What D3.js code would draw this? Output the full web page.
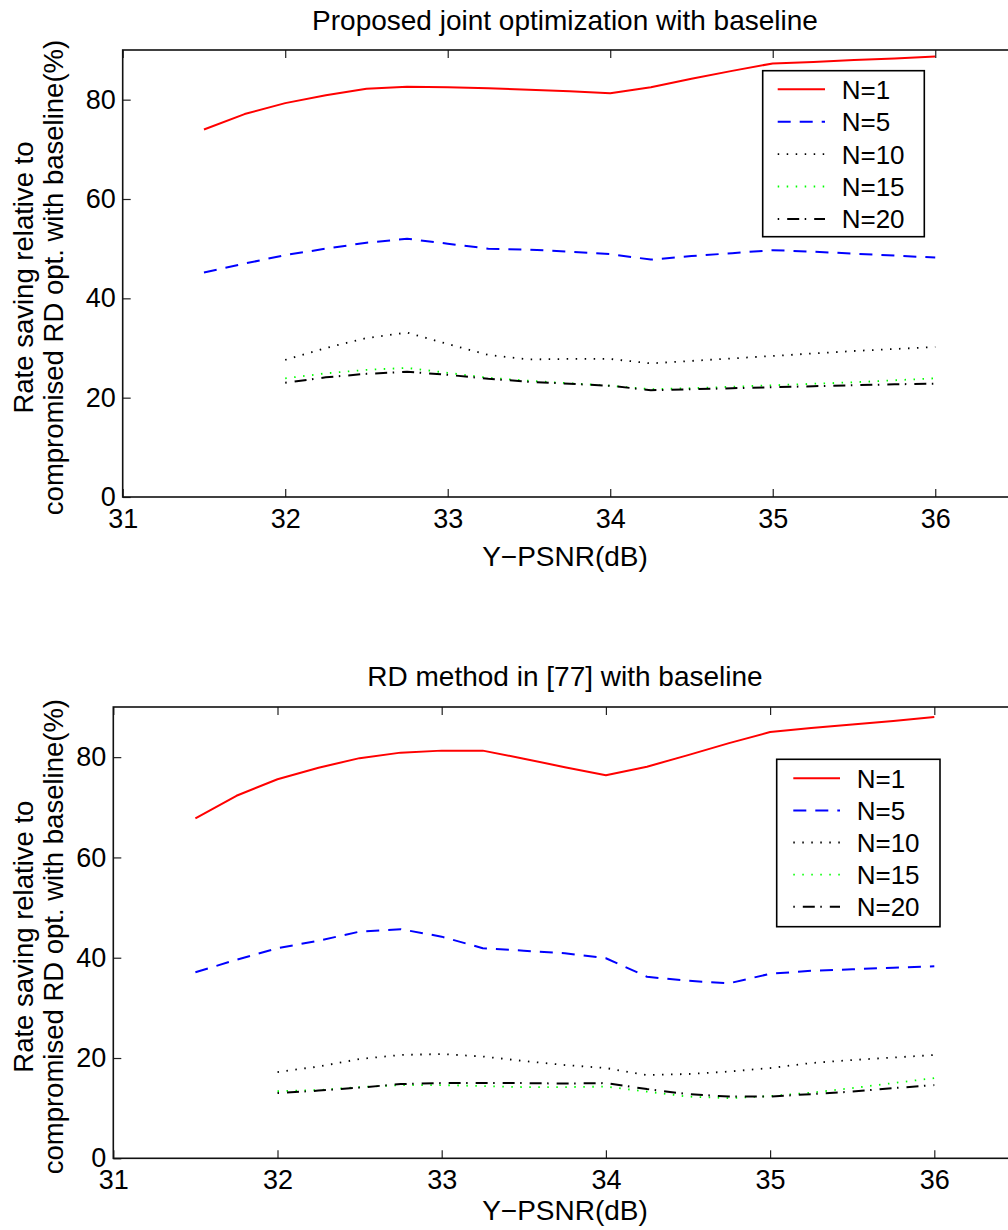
<!DOCTYPE html>
<html>
<head>
<meta charset="utf-8">
<script src="https://cdn.jsdelivr.net/npm/d3@7"></script>
<style>
  html, body { margin: 0; padding: 0; background: #fff; }
  svg text { font-family: "Liberation Sans", Arial, Helvetica, sans-serif; fill: #000; }
</style>
</head>
<body>
<svg id="fig" width="1008" height="1230"></svg>
<script>
// PSNR sample points (dB)
const psnrAll = [31.5, 31.75, 32, 32.25, 32.5, 32.75, 33, 33.25, 33.5, 33.75,
                 34, 34.25, 34.5, 34.75, 35, 35.25, 35.5, 35.75, 36];
const psnrFrom32 = psnrAll.slice(2);

const xTicks = [31, 32, 33, 34, 35, 36];
const yTicks = [0, 20, 40, 60, 80];
const seriesNames = ["N=1", "N=5", "N=10", "N=15", "N=20"];

// Proposed joint optimization with baseline: rate saving (%)
const propN1  = [74.0, 77.1, 79.3, 80.9, 82.2, 82.6, 82.5, 82.3, 82.0, 81.7,
                 81.3, 82.5, 84.2, 85.8, 87.3, 87.6, 88.0, 88.3, 88.7];
const propN5  = [45.2, 47.0, 48.7, 50.0, 51.2, 52.0, 51.0, 50.0, 49.8, 49.4,
                 48.9, 47.8, 48.5, 49.1, 49.7, 49.4, 49.0, 48.6, 48.2];
const propN10 = [27.6, 30.0, 32.0, 33.1, 30.8, 28.6, 27.7, 27.8,
                 27.8, 26.9, 27.4, 27.9, 28.4, 28.9, 29.4, 29.8, 30.2];
const propN15 = [23.9, 24.9, 25.6, 26.0, 25.0, 24.0, 23.4, 22.9,
                 22.4, 21.7, 21.9, 22.2, 22.5, 22.8, 23.1, 23.5, 23.9];
const propN20 = [23.0, 24.1, 24.8, 25.2, 24.6, 23.8, 23.2, 22.8,
                 22.4, 21.5, 21.7, 21.9, 22.1, 22.3, 22.5, 22.7, 22.8];

// RD method in [77] with baseline: rate saving (%)
const rdN1  = [67.8, 72.3, 75.6, 77.9, 79.8, 80.9, 81.3, 81.3, 79.7, 78.0,
               76.4, 78.1, 80.4, 82.8, 85.0, 85.8, 86.5, 87.2, 88.0];
const rdN5  = [37.1, 39.6, 41.9, 43.4, 45.2, 45.7, 44.2, 41.9, 41.4, 40.9,
               39.9, 36.2, 35.4, 34.9, 36.8, 37.4, 37.7, 38.0, 38.3];
const rdN10 = [17.2, 18.3, 19.8, 20.6, 20.8, 20.3, 19.4, 18.6,
               18.0, 16.6, 16.8, 17.3, 18.0, 19.0, 19.6, 20.1, 20.6];
const rdN15 = [13.4, 13.6, 14.2, 14.6, 14.6, 14.4, 14.2, 14.2,
               14.3, 13.3, 12.3, 12.0, 12.4, 13.1, 14.0, 15.0, 16.0];
const rdN20 = [13.0, 13.5, 14.1, 14.8, 15.0, 15.0, 15.0, 14.9,
               15.0, 13.8, 12.8, 12.3, 12.3, 12.8, 13.3, 14.0, 14.6];

// line styles per series
const styles = [
  { color: "#ff0000", dash: null,               width: 2 },
  { color: "#0000ff", dash: "13,9",             width: 2 },
  { color: "#000000", dash: "1.5,7.5",          width: 1.8 },
  { color: "#00ff00", dash: "1.5,7.5",          width: 1.8 },
  { color: "#000000", dash: "1.5,8,12,5.5",     width: 2 }
];

const svg = d3.select("#fig");
const FS_TICK = 27, FS_LABEL = 28, FS_YLAB = 27.5, FS_TITLE = 28, FS_LEG = 26;

function panel(cfg) {
  const x = d3.scaleLinear().domain([31, 36.5]).range([cfg.left, cfg.right]);
  const y = d3.scaleLinear().domain([0, 90]).range([cfg.bottom, cfg.top]);
  const g = svg.append("g");

  // series lines
  const line = d3.line().x(d => x(d[0])).y(d => y(d[1]));
  cfg.series.forEach((s, i) => {
    const pts = s.xs.map((v, k) => [v, s.ys[k]]);
    const p = g.append("path")
      .attr("d", line(pts))
      .attr("fill", "none")
      .attr("stroke", styles[i].color)
      .attr("stroke-width", styles[i].width)
      .attr("stroke-linejoin", "round");
    if (styles[i].dash) p.attr("stroke-dasharray", styles[i].dash);
  });

  // axes with inward ticks on all four sides
  const ax = g.append("g").attr("transform", `translate(0,${cfg.bottom})`)
    .call(d3.axisBottom(x).tickValues(xTicks).tickSize(-8).tickPadding(12)
      .tickFormat(d3.format("d")));
  const axT = g.append("g").attr("transform", `translate(0,${cfg.top})`)
    .call(d3.axisTop(x).tickValues(xTicks).tickSize(-8).tickFormat(""));
  const ay = g.append("g").attr("transform", `translate(${cfg.left},0)`)
    .call(d3.axisLeft(y).tickValues(yTicks).tickSize(-8).tickPadding(7)
      .tickFormat(d3.format("d")));
  const ayR = g.append("g").attr("transform", `translate(${cfg.right},0)`)
    .call(d3.axisRight(y).tickValues(yTicks).tickSize(-8).tickFormat(""));
  [ax, axT, ay, ayR].forEach(a => {
    a.select(".domain").remove();
    a.selectAll("line").attr("stroke", "#222").attr("stroke-width", 1.2);
    a.selectAll("text").style("font-size", FS_TICK + "px")
      .style("font-family", "'Liberation Sans', Arial, sans-serif").attr("fill", "#000");
  });

  // axes frame
  g.append("rect")
    .attr("x", cfg.left).attr("y", cfg.top)
    .attr("width", cfg.right - cfg.left).attr("height", cfg.bottom - cfg.top)
    .attr("fill", "none").attr("stroke", "#111").attr("stroke-width", 1.6);

  // title
  g.append("text").attr("x", cfg.cx).attr("y", cfg.titleY)
    .attr("text-anchor", "middle").style("font-size", FS_TITLE + "px").text(cfg.title);

  // x label
  g.append("text").attr("x", cfg.cx).attr("y", cfg.xlabY)
    .attr("text-anchor", "middle").style("font-size", FS_LABEL + "px").text("Y\u2212PSNR(dB)");

  // y label (two lines)
  const cy = (cfg.top + cfg.bottom) / 2 + 4;
  [["Rate saving relative to", 33], ["compromised RD opt. with baseline(%)", 63]]
    .forEach(([t, bx]) => {
      g.append("text")
        .attr("transform", `translate(${bx},${cy}) rotate(-90)`)
        .attr("text-anchor", "middle").style("font-size", FS_YLAB + "px").text(t);
    });

  // legend
  const L = cfg.legend;
  const lg = g.append("g");
  lg.append("rect").attr("x", L.x0).attr("y", L.y0)
    .attr("width", L.x1 - L.x0).attr("height", L.y1 - L.y0)
    .attr("fill", "#fff").attr("stroke", "#000").attr("stroke-width", 1.6);
  seriesNames.forEach((name, i) => {
    const ry = L.firstRow + i * L.step;
    const s = lg.append("line")
      .attr("x1", L.lx0).attr("x2", L.lx1).attr("y1", ry).attr("y2", ry)
      .attr("stroke", styles[i].color).attr("stroke-width", styles[i].width);
    if (styles[i].dash) s.attr("stroke-dasharray", styles[i].dash);
    lg.append("text").attr("x", L.tx).attr("y", ry + 9.5)
      .style("font-size", FS_LEG + "px").text(name);
  });
}

panel({
  left: 122.7, right: 1016.5, top: 50, bottom: 497, cx: 565,
  title: "Proposed joint optimization with baseline", titleY: 30, xlabY: 566,
  series: [
    { xs: psnrAll, ys: propN1 }, { xs: psnrAll, ys: propN5 },
    { xs: psnrFrom32, ys: propN10 }, { xs: psnrFrom32, ys: propN15 },
    { xs: psnrFrom32, ys: propN20 }
  ],
  legend: { x0: 762.7, y0: 70.7, x1: 924.3, y1: 236.7, firstRow: 89.3, step: 32.4,
            lx0: 777.7, lx1: 825, tx: 841.7 }
});

panel({
  left: 113.3, right: 1016.4, top: 707, bottom: 1158.3, cx: 565,
  title: "RD method in [77] with baseline", titleY: 686, xlabY: 1220,
  series: [
    { xs: psnrAll, ys: rdN1 }, { xs: psnrAll, ys: rdN5 },
    { xs: psnrFrom32, ys: rdN10 }, { xs: psnrFrom32, ys: rdN15 },
    { xs: psnrFrom32, ys: rdN20 }
  ],
  legend: { x0: 776.7, y0: 759.3, x1: 940, y1: 926.7, firstRow: 778.3, step: 32.1,
            lx0: 793.3, lx1: 840, tx: 856.7 }
});
</script>
</body>
</html>
